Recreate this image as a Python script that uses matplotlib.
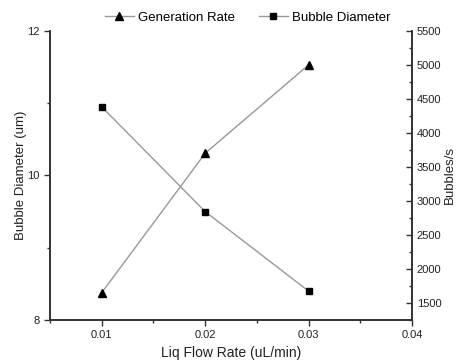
import matplotlib.pyplot as plt
from matplotlib.ticker import MultipleLocator

plt.rcParams['font.family'] = ['Liberation Sans', 'DejaVu Sans']

flow = [0.01, 0.02, 0.03]
diameter = [10.95, 9.5, 8.4]
gen_rate = [1650, 3700, 5000]

fig = plt.figure(figsize=(4.61, 3.64), dpi=100)
ax = fig.add_axes([0.1085, 0.121, 0.785, 0.794])
ax2 = ax.twinx()

l1, = ax2.plot(flow, gen_rate, color="#999999", lw=1, marker="^", ms=6,
               mfc="black", mec="black", label="Generation Rate")
l2, = ax.plot(flow, diameter, color="#999999", lw=1, marker="s", ms=5,
              mfc="black", mec="black", label="Bubble Diameter")

ax.set_xlim(0.005, 0.04)
ax.set_ylim(8, 12)
ax2.set_ylim(1250, 5500)

ax.xaxis.set_minor_locator(MultipleLocator(0.005))
ax.yaxis.set_major_locator(MultipleLocator(2))
ax.yaxis.set_minor_locator(MultipleLocator(1))
ax2.yaxis.set_minor_locator(MultipleLocator(250))
ax.set_xticks([0.01, 0.02, 0.03, 0.04])
ax.set_xticklabels(["0.01", "0.02", "0.03", "0.04"])
ax2.set_yticks(range(1500, 5501, 500))

spine_col = "#333333"
for a in (ax, ax2):
    for s in a.spines.values():
        s.set_color(spine_col)
        s.set_linewidth(1.2)
    a.spines["top"].set_visible(False)
ax.tick_params(axis="both", which="major", direction="out", length=4,
               width=1, colors=spine_col, labelsize=8, labelcolor="#222222")
ax.tick_params(axis="both", which="minor", direction="out", length=2.5,
               width=1, colors=spine_col)
ax2.tick_params(axis="y", which="major", direction="in", length=4,
                width=1, colors=spine_col, labelsize=8, labelcolor="#222222")
ax2.tick_params(axis="y", which="minor", direction="in", length=2.5,
                width=1, colors=spine_col)

ax.set_xlabel("Liq Flow Rate (uL/min)", fontsize=10, color="#222222", labelpad=4)
ax.set_ylabel("Bubble Diameter (um)", fontsize=9.5, color="#222222", labelpad=0)
ax2.set_ylabel("Bubbles/s", fontsize=9.5, color="#222222", labelpad=2)

fig.legend(handles=[l1, l2], loc="upper center", bbox_to_anchor=(0.537, 1.0),
           ncol=2, frameon=False, fontsize=9.5, handlelength=2.2,
           columnspacing=1.8, handletextpad=0.3)

fig.savefig("out.png", dpi=100)
